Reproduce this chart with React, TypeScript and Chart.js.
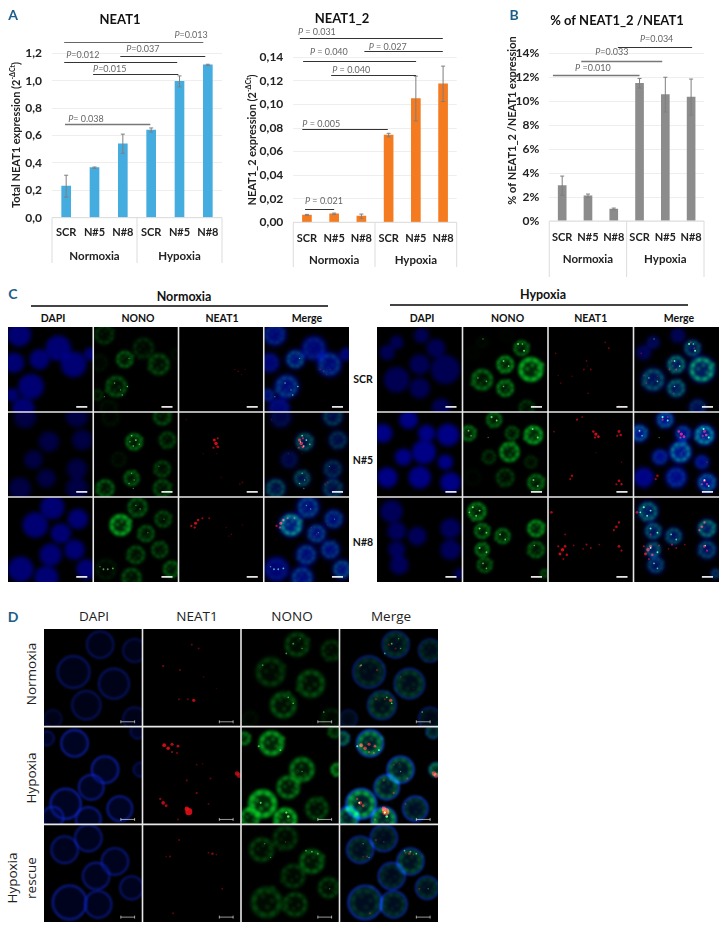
import React, { useEffect, useRef } from "react";
import { Chart, registerables } from "chart.js";
Chart.register(...registerables);

const FONT = "Lato, 'Open Sans', sans-serif";
const categories = ["SCR", "N#5", "N#8", "SCR", "N#5", "N#8"];
const groupLabels = ["Normoxia", "Hypoxia"];

const neat1Values = [0.23, 0.365, 0.54, 0.64, 0.995, 1.115];
const neat1Errors = [0.08, 0.005, 0.07, 0.015, 0.04, 0.005];
// x from, x to (category index), value height, label x, label height, label text
const neat1Brackets: any[] = [
  [-0.07, 4.84, 1.285, 3.82, 1.334, "=0.013"],
  [1.91, 4.91, 1.177, 2.12, 1.231, "=0.037"],
  [-0.07, 3.92, 1.134, 0, 1.184, "=0.012"],
  [0.95, 3.96, 1.047, 0.95, 1.082, "=0.015"],
  [-0.04, 2.97, 0.686, 0.07, 0.72, "= 0.038"],
];
const neat1Tones = ["mid", "dark", "dark", "dark", "light"];

const neat12Values = [0.0062, 0.0072, 0.0052, 0.074, 0.105, 0.1175];
const neat12Errors = [0.0005, 0.0006, 0.0018, 0.0015, 0.019, 0.015];
const neat12Brackets: any[] = [
  [-0.26, 4.99, 0.1566, -0.33, 0.1615, " = 0.031"],
  [2.11, 4.99, 0.1451, 2.27, 0.149, " = 0.027"],
  [-0.14, 4.01, 0.1366, 0.11, 0.1442, " = 0.040"],
  [0.89, 4.01, 0.1252, 0.93, 0.1292, " = 0.040"],
  [-0.17, 2.97, 0.0792, -0.17, 0.0834, " = 0.005"],
  [-0.07, 1.0, 0.011, -0.07, 0.0183, " = 0.021"],
];
const neat12Tones = ["dark", "dark", "dark", "dark", "dark", "dark"];

const ratioValues = [2.95, 2.1, 1.0, 11.5, 10.55, 10.35];
const ratioErrors = [0.8, 0.15, 0.08, 0.4, 1.45, 1.5];
const ratioBrackets: any[] = [
  [2.16, 5.04, 14.5, 3.02, 15.17, "=0.034"],
  [0.74, 3.88, 13.36, 1.28, 14.08, "=0.033"],
  [-0.36, 3.0, 12.16, 0.5, 12.8, " =0.010"],
];
const ratioTones = ["dark", "light", "light"];

// Micrograph cells: [x%, y%, radius%, NONO level] inside a panel
const cLeftScrNuclei = [[13,9,14,.25],[59,25,15,.2],[37,38,12,.5],[77,44,15,.35],[7,42,12,.1],[27,70,15,.4],[18,96,13,.1],[97,32,8,.1],[5,80,8,.3]];
const cLeftN5Nuclei = [[48,35,12,.6],[87,33,12,.35],[30,56,11,.12],[81,67,12,.35],[45,78,11,.55],[14,90,13,.5],[81,90,13,.4],[20,6,13,.1],[81,5,13,.4]];
const cLeftN8Nuclei = [[32,33,15,.95],[52,12,14,.45],[82,26,12,.4],[62,43,12,.45],[78,62,12,.4],[50,68,13,.4],[15,85,15,.12],[45,95,14,.4],[92,85,12,.5]];
const cRightScrNuclei = [[69,25,11,.6],[50,44,12,.8],[80,50,17,1],[23,62,15,.55],[50,72,12,.7],[23,18,8,.1],[75,95,11,.3],[52,10,9,.05],[12,30,9,.05]];
const cRightN5Nuclei = [[7,25,11,.65],[37,9,11,.6],[58,25,10,.45],[83,27,13,.95],[55,47,14,.8],[31,53,10,.3],[80,59,9,.25],[50,77,13,.3],[86,83,12,.6],[12,77,12,.05]];
const cRightN8Nuclei = [[86,37,12,.85],[17,17,13,.7],[23,40,11,.65],[47,46,11,.6],[23,62,10,.7],[86,62,12,.5],[26,80,11,.5],[96,90,6,.6]];
const dNormNuclei = [[57,16,15,.3],[92,22,13,.25],[30,44,18,.25],[71,56,17,.35],[43,78,16,.4],[92,92,13,.15],[9,92,10,.1]];
const dHypoNuclei = [[31,17,15,.85],[62,44,15,.6],[48,62,14,.6],[22,79,17,1],[77,84,14,.35],[45,95,14,1],[9,93,12,.8],[98,44,8,1],[3,12,8,.8],[95,5,8,.5]];
const dRescueNuclei = [[21,26,15,.3],[45,14,15,.25],[72,38,15,.45],[53,53,15,.25],[26,80,19,.3],[55,82,15,.3],[89,65,13,.3]];

// Foci: [x%, y%, radius in panel units, brightness]
const cLeftScrRed = [[70,52,.9,.5],[66,50,.7,.4],[74,56,.7,.4],[78,50,.7,.35]];
const cLeftScrGreen = [[34,80,1,.8],[40,70,1,.9],[25,66,1,.7],[32,74,.8,.7],[13,82,.8,.6],[42,37,.8,.6]];
const cLeftN5Red = [[44,37,2,1],[42,33,1.7,1],[46,41,1.5,.9],[41,42,1.2,.8],[46,31,1.2,.8],[29,49,.8,.3],[45,49,.8,.35],[75,83,1.2,.35],[72,85,1,.3],[50,77,.8,.3],[9,9,.9,.3]];
const cLeftN5Green = [[45,28,1,1],[50,33,1.1,1],[47,40,1,.9],[54,38,.9,.8],[43,35,.8,.8],[45,72,.9,.7],[48,80,.9,.7],[42,84,.9,.7],[47,90,.8,.6],[77,64,.7,.5]];
const cLeftN8Red = [[20,31,1.7,1],[15,34,1.3,.9],[23,27,1.4,.9],[28,25,1.1,.8],[36,25,1,.7],[19,36,1.3,.9],[56,36,.8,.4],[62,44,.9,.4],[75,33,.8,.3],[59,46,.8,.4]];
const cLeftN8Green = [[12,85,1.1,.8],[17,85,1.1,.8],[23,84,1.1,.8],[8,82,.9,.6],[50,10,.9,.6],[55,14,.9,.6],[83,26,.8,.6],[64,42,.8,.5]];
const cRightScrRed = [[71,25,1,.6],[67,18,1,.5],[9,31,.9,.5],[45,40,1,.5],[42,50,1,.55],[50,50,1,.6],[15,66,.9,.5],[28,58,.9,.4],[12,57,.8,.35],[47,78,1,.4],[83,92,.9,.4],[46,46,.8,.4]];
const cRightScrGreen = [[65,20,1.2,1],[72,28,1.2,1],[70,20,1,.9],[48,40,1.1,.9],[54,46,1.1,.9],[18,60,1,.7],[28,64,1,.7],[48,70,1,.8],[24,14,.9,.6]];
const cRightN5Red = [[56,26,1.8,1],[53,23,1.4,.9],[59,29,1.5,1],[55,30,1.2,.9],[83,23,1.6,.9],[85,27,1.4,.9],[81,28,1.2,.8],[28,75,1.4,.8],[26,79,1.2,.7],[83,81,1.5,.9],[86,85,1.3,.9],[80,85,1.2,.8],[34,9,1.2,.8],[40,6,1,.7],[7,23,1,.6],[56,48,.8,.3],[86,59,.9,.4]];
const cRightN5Green = [[34,6,1.3,1],[40,10,1.2,1],[7,22,1.1,.9],[10,28,1,.8],[82,20,1.2,1],[88,30,1.2,1],[83,80,1.2,.9],[88,87,1.2,.9],[30,30,.8,.6]];
const cRightN8Red = [[4,18,1.5,.8],[80,35,1.5,.9],[83,30,1.3,.9],[77,39,1.2,.8],[17,62,2,1],[14,67,1.6,1],[20,58,1.5,.9],[22,68,1.4,.9],[12,58,1.2,.8],[45,56,1.2,.7],[50,60,1.1,.7],[41,61,1,.6],[83,58,1.5,.9],[86,63,1.2,.8],[60,56,1,.6],[20,44,1,.7],[30,57,1,.6],[18,73,1.1,.7]];
const cRightN8Green = [[12,12,1.3,1],[20,16,1.2,1],[16,22,1.2,.9],[8,18,1.1,.9],[20,37,1.2,1],[28,42,1.1,.9],[44,44,1.1,.8],[50,50,1.1,.8],[20,60,1.2,1],[28,65,1.1,.9],[24,78,1.1,.8],[28,84,1,.8],[84,57,1,.8]];
const dNormRed = [[50,16,1,.45],[57,20,1,.45],[21,38,1.1,.6],[38,42,1,.55],[62,49,.8,.35],[52,73,1.6,.9],[46,72,1,.5],[37,72,1,.5],[75,61,.7,.25]];
const dNormGreen = [[53,15,.9,.7],[46,25,.9,.7],[53,76,.9,.8],[48,70,.9,.7],[22,37,.9,.6],[84,85,.9,.7],[62,20,.8,.6],[60,10,.8,.5]];
const dHypoRed = [[22,19,1.8,1],[26,22,1.7,1],[30,18,1.5,.9],[36,20,1.3,.9],[30,26,1.1,.7],[21,78,1.8,.9],[24,81,1.4,.8],[18,74,1.1,.7],[47,87,3.4,1],[45,84,2.2,1],[96,48,2.2,.8],[98,50,2.4,.7],[55,39,.9,.4],[69,53,1,.5],[45,55,1,.5],[55,68,1.1,.6],[67,79,.9,.5],[35,27,1,.6],[61,38,.8,.35],[36,95,1,.5]];
const dHypoGreen = [[18,20,1.1,.8],[40,24,1,.8],[48,92,1.4,1],[46,88,1.2,1],[20,78,1.1,.9],[62,46,.8,.6]];
const dRescueRed = [[37,16,1,.5],[28,33,1,.5],[24,33,.8,.4],[71,30,1.2,.7],[67,29,.9,.5],[75,31,.8,.45],[81,66,.9,.5],[31,91,.9,.5]];
const dRescueGreen = [[72,28,1,.7],[78,30,.9,.7],[66,27,.9,.7],[24,20,.8,.5],[30,34,.8,.5],[90,66,.8,.5],[45,18,.7,.4]];

// Hand-placed granules of a nucleus, in units of its radius
const granules = [[.55,.1],[.3,.6],[-.2,.65],[-.6,.3],[-.65,-.2],[-.3,-.6],[.2,-.65],[.62,-.35],[.1,.3],[-.25,.05],[.35,-.2],[.8,.35]];

const TONES: any = { dark: ["#333", 1], mid: ["#666", 1], light: ["#777", 1.4] };

function textPlugin(c: any) {
  return {
    id: "panelDecor",
    afterDatasetsDraw(chart: any) {
      const { ctx, scales: { x, y } } = chart;
      ctx.save();
      ctx.strokeStyle = "#7f7f7f";
      ctx.lineWidth = 1;
      c.values.forEach((v: number, i: number) => {
        const px = x.getPixelForValue(i), a = y.getPixelForValue(v + c.errors[i]), b = y.getPixelForValue(v - c.errors[i]);
        ctx.beginPath();
        ctx.moveTo(px, a); ctx.lineTo(px, b);
        ctx.moveTo(px - 2, a); ctx.lineTo(px + 2, a);
        ctx.moveTo(px - 2, b); ctx.lineTo(px + 2, b);
        ctx.stroke();
      });
      ctx.restore();
    },
    afterDraw(chart: any) {
      const { ctx, scales: { x, y }, chartArea: a } = chart;
      ctx.save();
      ctx.strokeStyle = "#dcdcdc";
      ctx.lineWidth = 1;
      [a.left, (a.left + a.right) / 2, a.right].forEach((px: number) => {
        ctx.beginPath(); ctx.moveTo(px, a.bottom); ctx.lineTo(px, c.sepEnd); ctx.stroke();
      });
      ctx.beginPath(); ctx.moveTo(a.left, a.bottom); ctx.lineTo(a.right, a.bottom); ctx.stroke();
      ctx.fillStyle = "#222";
      ctx.font = `bold 11.5px ${FONT}`;
      ctx.textAlign = "center";
      ctx.textBaseline = "middle";
      ctx.fillText(groupLabels[0], x.getPixelForValue(1), c.groupY);
      ctx.fillText(groupLabels[1], x.getPixelForValue(4), c.groupY);
      ctx.font = `bold 13px ${FONT}`;
      ctx.fillStyle = "#111";
      ctx.fillText(c.title, c.titleX, c.titleY);
      ctx.save();
      ctx.translate(c.yTitleX, c.yTitleY);
      ctx.rotate(-Math.PI / 2);
      ctx.font = `bold 11px ${FONT}`;
      const w1 = ctx.measureText(c.yTitle).width;
      ctx.font = `bold 7px ${FONT}`;
      const w2 = c.ySup ? ctx.measureText(c.ySup).width : 0;
      ctx.font = `bold 11px ${FONT}`;
      const w3 = c.ySup ? ctx.measureText(")").width : 0;
      const start = -(w1 + w2 + w3) / 2;
      ctx.textAlign = "left";
      ctx.fillStyle = "#222";
      ctx.fillText(c.yTitle, start, 0);
      if (c.ySup) {
        ctx.font = `bold 7px ${FONT}`;
        ctx.fillText(c.ySup, start + w1, -3);
        ctx.font = `bold 11px ${FONT}`;
        ctx.fillText(")", start + w1 + w2, 0);
      }
      ctx.restore();
      c.brackets.forEach((b: any[], i: number) => {
        const [col, lw] = TONES[c.tones[i]];
        ctx.strokeStyle = col;
        ctx.lineWidth = lw;
        const py = Math.round(y.getPixelForValue(b[2])) + 0.5;
        ctx.beginPath();
        ctx.moveTo(x.getPixelForValue(b[0]), py);
        ctx.lineTo(x.getPixelForValue(b[1]), py);
        ctx.stroke();
        const lx = x.getPixelForValue(b[3]), ly = y.getPixelForValue(b[4]);
        ctx.fillStyle = "#666";
        ctx.textAlign = "left";
        ctx.font = `italic 9px ${FONT}`;
        ctx.fillText("P", lx, ly);
        const pw = ctx.measureText("P").width;
        ctx.font = `9px ${FONT}`;
        ctx.fillText(b[5], lx + pw, ly);
      });
      ctx.restore();
    },
  };
}

const barPanels: any[] = [
  { left: 0, width: 240, axL: 52, axR: 222, top: 53.3, bottom: 217.7, values: neat1Values, errors: neat1Errors, brackets: neat1Brackets, tones: neat1Tones, color: "#45ACDF", bar: 9, max: 1.2, step: 0.2, fmt: (v: number) => v.toFixed(1).replace(".", ","), title: "NEAT1", titleX: 120, titleY: 20, yTitle: "Total NEAT1 expression (2", ySup: "-ΔCt", yTitleX: 16, yTitleY: 135, sepEnd: 263, groupY: 256, tickPad: 0 },
  { left: 240, width: 240, axL: 53.3, axR: 216.7, top: 57.3, bottom: 222.3, values: neat12Values, errors: neat12Errors, brackets: neat12Brackets, tones: neat12Tones, color: "#F47B20", bar: 9, max: 0.14, step: 0.02, fmt: (v: number) => v.toFixed(2).replace(".", ","), title: "NEAT1_2", titleX: 102, titleY: 19, yTitle: "NEAT1_2 expression (2", ySup: "-ΔCt", yTitleX: 12, yTitleY: 140, sepEnd: 267, groupY: 260.5, tickPad: 2 },
  { left: 480, width: 243, axL: 69.3, axR: 224, top: 53.3, bottom: 221, values: ratioValues, errors: ratioErrors, brackets: ratioBrackets, tones: ratioTones, color: "#8C8C8C", bar: 8, max: 14, step: 2, fmt: (v: number) => v + "%", title: "% of NEAT1_2 /NEAT1", titleX: 137, titleY: 21, yTitle: "% of NEAT1_2 /NEAT1 expression", ySup: "", yTitleX: 32.7, yTitleY: 120.5, sepEnd: 277, groupY: 259, tickPad: 2 },
];

function BarPanel({ c }: { c: any }) {
  const ref = useRef<HTMLCanvasElement>(null);
  useEffect(() => {
    const chart = new Chart(ref.current as any, {
      type: "bar",
      data: { labels: categories, datasets: [{ data: c.values, backgroundColor: c.color, barThickness: c.bar }] },
      options: {
        responsive: false, animation: false, events: [],
        layout: { padding: { top: c.top, right: c.width - c.axR, left: 0, bottom: 0 } },
        plugins: { legend: { display: false }, tooltip: { enabled: false }, title: { display: false } },
        scales: {
          x: {
            grid: { display: false }, border: { display: false },
            ticks: { autoSkip: false, maxRotation: 0, padding: c.tickPad, color: "#222", font: { family: FONT, weight: "bold", size: 11 } },
            afterFit: (s: any) => { s.height = 280 - c.bottom; },
          },
          y: {
            min: 0, max: c.max,
            grid: { color: "#eeeeee", drawTicks: false }, border: { display: false },
            ticks: { stepSize: c.step, padding: 10, color: "#222", font: { family: FONT, weight: "bold", size: 12 }, callback: c.fmt },
            afterFit: (s: any) => { s.width = c.axL; },
          },
        },
      } as any,
      plugins: [textPlugin(c)],
    });
    return () => chart.destroy();
  }, []);
  return <canvas ref={ref} width={c.width} height={280} style={{ position: "absolute", left: c.left, top: 0, width: c.width, height: 280 }} />;
}

const microGroups: any[] = [
  { left: 8, top: 327, w: 341, h: 255, columns: ["DAPI", "NONO", "NEAT1", "Merge"], ring: false, bar: "thick",
    rows: [
      { nuclei: cLeftScrNuclei, red: cLeftScrRed, green: cLeftScrGreen, blue: 0.62 },
      { nuclei: cLeftN5Nuclei, red: cLeftN5Red, green: cLeftN5Green, blue: 0.36 },
      { nuclei: cLeftN8Nuclei, red: cLeftN8Red, green: cLeftN8Green, blue: 0.62 },
    ] },
  { left: 377, top: 327, w: 342, h: 255, columns: ["DAPI", "NONO", "NEAT1", "Merge"], ring: false, bar: "thick",
    rows: [
      { nuclei: cRightScrNuclei, red: cRightScrRed, green: cRightScrGreen, blue: 0.45 },
      { nuclei: cRightN5Nuclei, red: cRightN5Red, green: cRightN5Green, blue: 0.72 },
      { nuclei: cRightN8Nuclei, red: cRightN8Red, green: cRightN8Green, blue: 0.48 },
    ] },
  { left: 44, top: 629, w: 394, h: 293, columns: ["DAPI", "NEAT1", "NONO", "Merge"], ring: true, bar: "thin",
    rows: [
      { nuclei: dNormNuclei, red: dNormRed, green: dNormGreen, blue: 0.42 },
      { nuclei: dHypoNuclei, red: dHypoRed, green: dHypoGreen, blue: 0.72 },
      { nuclei: dRescueNuclei, red: dRescueRed, green: dRescueGreen, blue: 0.58 },
    ] },
];

function buildMicroDatasets(g: any) {
  const k = g.w / 400;
  const out: any[] = [];
  g.rows.forEach((row: any, r: number) => {
    g.columns.forEach((col: string, c: number) => {
      const X = c * 100, Y = r * 100;
      const panel = [c, r];
      const merge = col === "Merge";
      const blue = () => {
        const d = row.nuclei.map((n: number[]) => ({ x: X + n[0], y: Y + n[1], r: n[2] * k * (g.ring ? 0.9 : 1) }));
        out.push({
          data: d, panel, lighter: merge, blur: g.ring ? 1.2 : 2,
          backgroundColor: d.map(() => g.ring ? `rgba(0,15,130,${0.3 * row.blue + 0.05})` : `rgba(0,0,185,${row.blue})`),
          borderColor: d.map(() => g.ring ? `rgba(15,45,225,${row.blue})` : "rgba(0,0,0,0)"),
          borderWidth: d.map((p: any) => g.ring ? p.r * 0.14 : 0),
        });
      };
      const green = () => {
        const m = merge ? 0.7 : 1;
        const d = row.nuclei.map((n: number[]) => ({ x: X + n[0], y: Y + n[1], r: n[2] * k * 0.72 }));
        out.push({
          data: d, panel, lighter: merge, blur: 1.6,
          backgroundColor: row.nuclei.map((n: number[]) => `rgba(0,200,40,${n[3] * 0.2 * m})`),
          borderColor: row.nuclei.map((n: number[]) => `rgba(0,215,40,${n[3] * 0.6 * m})`),
          borderWidth: d.map((p: any) => p.r * 0.45),
        });
        const pts: any[] = [], cols: any[] = [];
        row.nuclei.forEach((n: number[], ni: number) => {
          const flip = ni % 2 ? -1 : 1, swap = ni % 3 === 1;
          granules.forEach((o) => {
            const ox = swap ? o[1] : o[0], oy = swap ? o[0] : o[1];
            pts.push({ x: X + n[0] + flip * ox * n[2], y: Y + n[1] - flip * oy * n[2], r: n[2] * k * 0.15 });
            cols.push(`rgba(30,235,50,${n[3] * 0.32 * m})`);
          });
        });
        out.push({ data: pts, panel, lighter: merge, blur: 1, backgroundColor: cols, borderWidth: 0 });
        const f = row.green.map((n: number[]) => ({ x: X + n[0], y: Y + n[1], r: n[2] * k * 0.95 }));
        out.push({
          data: f, panel, lighter: merge, blur: 0.4,
          backgroundColor: row.green.map((n: number[]) => `rgba(110,255,110,${n[3] * 0.85})`),
          borderWidth: 0,
        });
      };
      const red = () => {
        const f = row.red.map((n: number[]) => ({ x: X + n[0], y: Y + n[1], r: n[2] * k * 1.05 }));
        out.push({
          data: f, panel, lighter: merge, blur: 0.5,
          backgroundColor: row.red.map((n: number[]) => `rgba(240,15,25,${n[3] * 0.85})`),
          borderWidth: 0,
        });
      };
      if (col === "DAPI") blue();
      if (col === "NONO") green();
      if (col === "NEAT1") red();
      if (col === "Merge") { blue(); green(); red(); }
    });
  });
  return out.reverse();
}

const microPlugin = (g: any) => ({
  id: "microFrames",
  beforeDraw(chart: any) {
    const { ctx, width, height } = chart;
    ctx.save();
    ctx.fillStyle = "#000";
    ctx.fillRect(0, 0, width, height);
    ctx.restore();
  },
  beforeDatasetDraw(chart: any, args: any) {
    const { ctx, scales: { x, y } } = chart;
    const ds = chart.data.datasets[args.index];
    const [c, r] = ds.panel;
    const l = x.getPixelForValue(c * 100), rr = x.getPixelForValue(c * 100 + 100);
    const t = y.getPixelForValue(r * 100), b = y.getPixelForValue(r * 100 + 100);
    ctx.save();
    ctx.beginPath();
    ctx.rect(l, t, rr - l, b - t);
    ctx.clip();
    ctx.filter = `blur(${ds.blur}px)`;
    if (ds.lighter) ctx.globalCompositeOperation = "lighter";
  },
  afterDatasetDraw(chart: any) {
    chart.ctx.restore();
  },
  afterDraw(chart: any) {
    const { ctx, scales: { x, y }, width, height } = chart;
    ctx.save();
    ctx.strokeStyle = "#e8e8e8";
    ctx.lineWidth = 1.6;
    for (let c = 1; c < 4; c++) {
      const px = x.getPixelForValue(c * 100);
      ctx.beginPath(); ctx.moveTo(px, 0); ctx.lineTo(px, height); ctx.stroke();
    }
    for (let r = 1; r < 3; r++) {
      const py = y.getPixelForValue(r * 100);
      ctx.beginPath(); ctx.moveTo(0, py); ctx.lineTo(width, py); ctx.stroke();
    }
    for (let c = 0; c < 4; c++) for (let r = 0; r < 3; r++) {
      const a = x.getPixelForValue(c * 100 + (g.bar === "thick" ? 80 : 78));
      const b = x.getPixelForValue(c * 100 + (g.bar === "thick" ? 93 : 92));
      const py = y.getPixelForValue(r * 100 + (g.bar === "thick" ? 94 : 95));
      ctx.strokeStyle = "#fff";
      ctx.lineWidth = g.bar === "thick" ? 1.6 : 0.6;
      ctx.beginPath(); ctx.moveTo(a, py); ctx.lineTo(b, py);
      if (g.bar === "thin") { ctx.moveTo(a, py - 1.5); ctx.lineTo(a, py + 1.5); ctx.moveTo(b, py - 1.5); ctx.lineTo(b, py + 1.5); }
      ctx.stroke();
    }
    ctx.restore();
  },
});

function MicroGroup({ g }: { g: any }) {
  const ref = useRef<HTMLCanvasElement>(null);
  useEffect(() => {
    const chart = new Chart(ref.current as any, {
      type: "bubble",
      data: { datasets: buildMicroDatasets(g) },
      options: {
        responsive: false, animation: false, events: [],
        layout: { padding: 0, autoPadding: false },
        plugins: { legend: { display: false }, tooltip: { enabled: false } },
        scales: {
          x: { type: "linear", min: 0, max: 400, display: false },
          y: { type: "linear", min: 0, max: 300, reverse: true, display: false },
        },
      } as any,
      plugins: [microPlugin(g)],
    });
    return () => chart.destroy();
  }, []);
  return <canvas ref={ref} width={g.w} height={g.h} style={{ position: "absolute", left: g.left, top: g.top, width: g.w, height: g.h }} />;
}

const T = ({ x, y, s, size = 11, weight = 700, color = "#111", font = FONT, rot = false }: any) => (
  <div style={{ position: "absolute", left: x, top: y, transform: `translate(-50%,-50%)${rot ? " rotate(-90deg)" : ""}`, fontFamily: font, fontSize: size, fontWeight: weight, color, whiteSpace: "nowrap", lineHeight: 1 }}>{s}</div>
);

const OS = "'Open Sans', sans-serif";
const cHeadLeft: any[] = [["DAPI", 53], ["NONO", 138], ["NEAT1", 222], ["Merge", 307]];
const cHeadRight: any[] = [["DAPI", 422], ["NONO", 507.6], ["NEAT1", 590.7], ["Merge", 679]];
const cRowLabels: any[] = [["SCR", 379], ["N#5", 460], ["N#8", 541.7]];
const dHead: any[] = [["DAPI", 94], ["NEAT1", 197], ["NONO", 292], ["Merge", 391]];

export default function App() {
  return (
    <div style={{ position: "absolute", left: 0, top: 0, width: 723, height: 927, overflow: "hidden", background: "#fff" }}>
      {barPanels.map((c, i) => <BarPanel key={i} c={c} />)}
      {microGroups.map((g, i) => <MicroGroup key={i} g={g} />)}
      <T x={13} y={15} s="A" size={14} color="#1B5E8C" />
      <T x={514} y={15} s="B" size={14} color="#1B5E8C" />
      <T x={13} y={294} s="C" size={14} color="#1B5E8C" />
      <T x={13} y={617} s="D" size={14} color="#1B5E8C" />
      <T x={184} y={297} s="Normoxia" size={12.5} />
      <T x={543} y={295} s="Hypoxia" size={12.5} />
      <div style={{ position: "absolute", left: 31, top: 305, width: 297, height: 1.5, background: "#444" }} />
      <div style={{ position: "absolute", left: 390, top: 304, width: 298, height: 1.5, background: "#444" }} />
      {cHeadLeft.concat(cHeadRight).map((h, i) => <T key={i} x={h[1]} y={318} s={h[0]} size={10.5} />)}
      {cRowLabels.map((h, i) => <T key={i} x={363} y={h[1]} s={h[0]} size={10.5} />)}
      {dHead.map((h, i) => <T key={i} x={h[1]} y={617} s={h[0]} size={13.5} weight={400} color="#222" font={OS} />)}
      <T x={32} y={674} s="Normoxia" size={13.5} weight={400} color="#222" font={OS} rot />
      <T x={32} y={778} s="Hypoxia" size={13.5} weight={400} color="#222" font={OS} rot />
      <T x={13} y={878} s="Hypoxia" size={13.5} weight={400} color="#222" font={OS} rot />
      <T x={32} y={878} s="rescue" size={13.5} weight={400} color="#222" font={OS} rot />
    </div>
  );
}
